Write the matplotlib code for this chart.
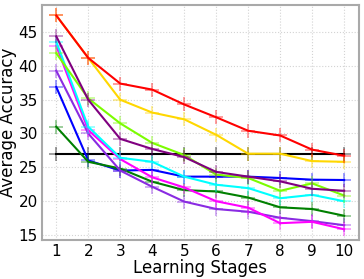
import matplotlib
matplotlib.use('Agg')
import matplotlib.pyplot as plt
from matplotlib.colors import to_rgba

stages = list(range(1, 11))

red = [47.5, 41.2, 37.4, 36.5, 34.3, 32.4, 30.4, 29.7, 27.6, 26.7]
gold = [47.5, 41.2, 35.0, 33.1, 32.1, 29.8, 27.0, 27.0, 25.9, 25.8]
purple = [44.4, 35.0, 29.2, 27.7, 26.5, 24.3, 23.6, 22.9, 21.8, 21.5]
lime = [41.9, 35.2, 31.5, 28.6, 26.8, 23.9, 23.4, 21.5, 22.6, 20.8]
cyan = [43.6, 31.0, 26.4, 25.8, 23.6, 22.4, 21.9, 20.4, 20.9, 19.95]
magenta = [43.0, 30.5, 26.2, 23.5, 22.0, 19.95, 19.0, 16.7, 16.9, 15.8]
mpurple = [39.3, 30.0, 24.5, 22.1, 19.9, 18.8, 18.4, 17.5, 17.0, 16.4]
green = [31.0, 25.8, 24.8, 22.85, 21.6, 21.4, 20.5, 19.05, 18.8, 17.8]
blue = [36.9, 26.0, 24.5, 24.6, 23.6, 23.6, 23.6, 23.4, 23.15, 23.1]
black = [27.0] * 10

series = [
    (black, 'black'),
    (blue, 'blue'),
    (green, 'green'),
    (mpurple, 'blueviolet'),
    (magenta, 'magenta'),
    (cyan, 'cyan'),
    (lime, 'lawngreen'),
    (purple, 'purple'),
    (gold, 'gold'),
    (red, 'red'),
]

fig = plt.figure(figsize=(3.64, 2.79), dpi=100)
ax = fig.add_axes([0.115, 0.14, 0.87, 0.843])

for ys, c in series:
    ax.plot(stages, ys, color=c, lw=1.5, marker='+', ms=10,
            mec=to_rgba(c, 0.45), mew=1.2)

ax.grid(True, color='lightgray', linestyle=':', linewidth=0.8)
for s in ax.spines.values():
    s.set_color('darkgray')
    s.set_linewidth(1.5)
ax.set_xticks(stages)
ax.set_yticks([15, 20, 25, 30, 35, 40, 45])
ax.tick_params(length=0, labelsize=11, pad=3)
ax.set_xlabel('Learning Stages', fontsize=12, labelpad=0)
ax.set_ylabel('Average Accuracy', fontsize=12, labelpad=1)

fig.savefig('out.png', dpi=100)
